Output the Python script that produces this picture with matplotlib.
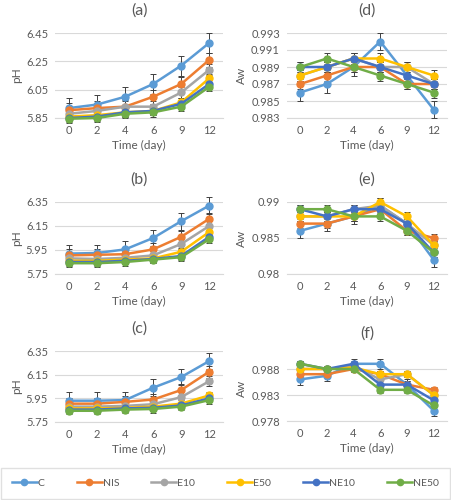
import matplotlib.pyplot as plt
from matplotlib.lines import Line2D

plt.rcParams['font.family'] = ['Lato', 'DejaVu Sans']

days = ["0", "2", "4", "6", "9", "12"]
groups = ["C", "NIS", "E10", "E50", "NE10", "NE50"]
colors = ["#5B9BD5", "#ED7D31", "#A5A5A5", "#FFC000", "#4472C4", "#70AD47"]

# pH values (panels a, b, c)
ph_a = [
    [5.92, 5.945, 6.00, 6.09, 6.22, 6.38],
    [5.905, 5.92, 5.93, 6.00, 6.09, 6.26],
    [5.88, 5.90, 5.93, 5.93, 6.03, 6.19],
    [5.86, 5.87, 5.89, 5.90, 5.96, 6.13],
    [5.85, 5.86, 5.89, 5.90, 5.95, 6.09],
    [5.845, 5.85, 5.88, 5.89, 5.93, 6.07],
]
ph_b = [
    [5.92, 5.925, 5.955, 6.05, 6.19, 6.32],
    [5.905, 5.91, 5.915, 5.955, 6.06, 6.21],
    [5.88, 5.875, 5.885, 5.905, 6.00, 6.15],
    [5.86, 5.86, 5.87, 5.88, 5.935, 6.10],
    [5.85, 5.85, 5.86, 5.875, 5.90, 6.06],
    [5.84, 5.84, 5.85, 5.87, 5.89, 6.04],
]
ph_c = [
    [5.93, 5.93, 5.935, 6.04, 6.13, 6.265],
    [5.905, 5.905, 5.92, 5.94, 6.02, 6.175],
    [5.88, 5.88, 5.886, 5.90, 5.96, 6.095],
    [5.865, 5.865, 5.87, 5.88, 5.905, 5.975],
    [5.855, 5.855, 5.865, 5.87, 5.89, 5.95],
    [5.845, 5.845, 5.855, 5.86, 5.88, 5.935],
]
ph_err = [0.07, 0.05, 0.04, 0.03, 0.03, 0.03]

# water activity (panels d, e, f)
aw_d = [
    [0.986, 0.987, 0.989, 0.992, 0.988, 0.984],
    [0.987, 0.988, 0.989, 0.989, 0.987, 0.987],
    [0.988, 0.989, 0.990, 0.989, 0.989, 0.987],
    [0.988, 0.989, 0.990, 0.990, 0.989, 0.988],
    [0.989, 0.989, 0.990, 0.989, 0.988, 0.987],
    [0.989, 0.990, 0.989, 0.988, 0.987, 0.986],
]
aw_e = [
    [0.986, 0.987, 0.988, 0.9895, 0.987, 0.982],
    [0.987, 0.987, 0.988, 0.989, 0.986, 0.985],
    [0.988, 0.988, 0.989, 0.9895, 0.987, 0.984],
    [0.988, 0.988, 0.988, 0.990, 0.988, 0.984],
    [0.989, 0.988, 0.989, 0.989, 0.987, 0.983],
    [0.989, 0.989, 0.988, 0.988, 0.986, 0.983],
]
aw_f = [
    [0.986, 0.9867, 0.989, 0.989, 0.985, 0.980],
    [0.987, 0.987, 0.988, 0.987, 0.985, 0.984],
    [0.988, 0.988, 0.9885, 0.986, 0.987, 0.983],
    [0.988, 0.988, 0.9883, 0.987, 0.987, 0.983],
    [0.989, 0.988, 0.989, 0.985, 0.985, 0.982],
    [0.989, 0.988, 0.988, 0.984, 0.984, 0.981],
]
aw_err = [0.001, 0.0006, 0.0006, 0.0006, 0.0006, 0.0006]

panels = [
    ("(a)", ph_a, ph_err, "pH", [5.85, 6.05, 6.25, 6.45], (5.85, 6.45), "%.2f", [0.122, 0.764, 0.373, 0.170]),
    ("(b)", ph_b, ph_err, "pH", [5.75, 5.95, 6.15, 6.35], (5.75, 6.35), "%.2f", [0.122, 0.452, 0.373, 0.144]),
    ("(c)", ph_c, ph_err, "pH", [5.75, 5.95, 6.15, 6.35], (5.75, 6.35), "%.2f", [0.122, 0.156, 0.373, 0.142]),
    ("(d)", aw_d, aw_err, "Aw", [0.983, 0.985, 0.987, 0.989, 0.991, 0.993], (0.983, 0.993), "%.3f", [0.636, 0.764, 0.355, 0.170]),
    ("(e)", aw_e, aw_err, "Aw", [0.98, 0.985, 0.99], (0.98, 0.99), "%g", [0.636, 0.452, 0.355, 0.144]),
    ("(f)", aw_f, aw_err, "Aw", [0.978, 0.983, 0.988], (0.978, 0.9905), "%.3f", [0.636, 0.158, 0.355, 0.130]),
]

txt = "#595959"
grid = "#D9D9D9"

fig = plt.figure(figsize=(4.51, 5.0), dpi=100)
x = list(range(len(days)))
for title, data, err, ylab, ticks, lim, fmt, rect in panels:
    ax = fig.add_axes(rect)
    for vals, e, c in zip(data, err, colors):
        ax.errorbar(x, vals, yerr=e, color=c, marker="o", markersize=5, lw=1.8,
                    ecolor="#404040", elinewidth=0.7, capsize=2, capthick=0.7,
                    clip_on=False, zorder=3)
    ax.set_ylim(*lim)
    ax.set_yticks(ticks)
    ax.set_yticklabels([fmt % t for t in ticks])
    ax.set_xlim(-0.5, 5.5)
    ax.set_xticks(x)
    ax.set_xticklabels(days)
    ax.grid(axis="y", color=grid, lw=0.8)
    ax.set_axisbelow(True)
    for s in ["top", "right", "left"]:
        ax.spines[s].set_visible(False)
    ax.spines["bottom"].set_color(grid)
    ax.tick_params(length=0, labelsize=8, colors=txt, pad=5)
    ax.set_ylabel(ylab, fontsize=8.5, color=txt, labelpad=3)
    ax.set_xlabel("Time (day)", fontsize=8.5, color=txt, labelpad=3)
    ax.set_title(title, fontsize=11.5, color=txt, pad=13)

handles = [Line2D([], [], color=c, marker="o", markersize=4.5, lw=1.8) for c in colors]
leg = fig.legend(handles, groups, loc="lower left", bbox_to_anchor=(0.003, 0.003, 0.994, 0.063),
                 mode="expand", ncol=6, fontsize=7.5, frameon=True, fancybox=False,
                 handlelength=2.4, handletextpad=0.1, borderpad=1.0, borderaxespad=0,
                 labelcolor=txt)
leg.get_frame().set_edgecolor(grid)

fig.savefig("out.png", dpi=100)
